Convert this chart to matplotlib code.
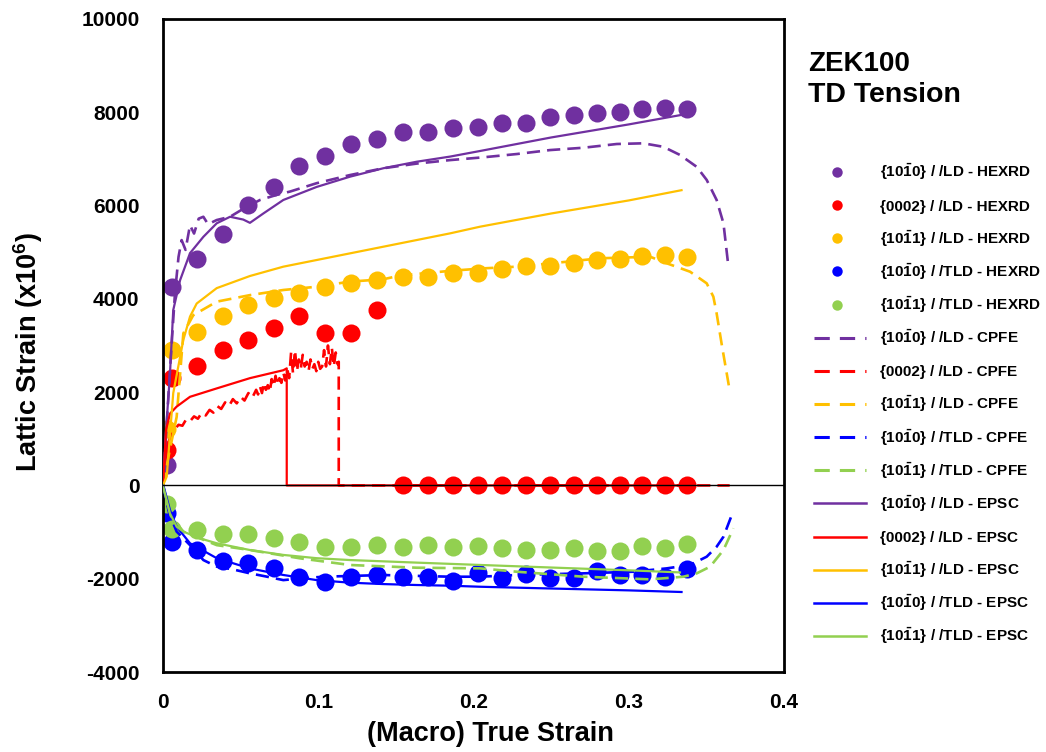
import matplotlib
matplotlib.use("Agg")
import matplotlib.pyplot as plt
from matplotlib.lines import Line2D

plt.rcParams['font.family'] = 'Liberation Sans'
plt.rcParams['font.weight'] = 'bold'
plt.rcParams['mathtext.fontset'] = 'custom'
plt.rcParams['mathtext.rm'] = 'Liberation Sans:bold'
plt.rcParams['mathtext.bf'] = 'Liberation Sans:bold'
plt.rcParams['mathtext.it'] = 'Liberation Sans:bold'

PURPLE = '#7030A0'
RED = '#FF0000'
YELLOW = '#FFC000'
BLUE = '#0000FF'
GREEN = '#92D050'

# ---------------- HEXRD measurements ---------------- #
hex_x = [0.0025, 0.0055, 0.0217, 0.0385, 0.0546, 0.0717, 0.0878, 0.1043, 0.1213, 0.138,
         0.1544, 0.1705, 0.1866, 0.2031, 0.2182, 0.2338, 0.2493, 0.2647, 0.2793, 0.2944,
         0.3087, 0.3233, 0.3373]
hex_prism_ld = [430, 4260, 4850, 5400, 6010, 6400, 6850, 7070, 7330, 7430, 7570, 7580,
                7660, 7690, 7760, 7780, 7900, 7940, 7980, 8010, 8060, 8085, 8060]
hex_basal_ld = [770, 2300, 2560, 2900, 3120, 3370, 3630, 3270, 3270, 3760, 0, 0, 0, 0,
                0, 0, 0, 0, 0, 0, 0, 0, 0]
hex_pyr_ld = [1220, 2900, 3300, 3630, 3870, 4010, 4120, 4250, 4350, 4400, 4475, 4460,
              4550, 4550, 4630, 4700, 4700, 4775, 4830, 4850, 4925, 4940, 4900]
hex_prism_tld = [-600, -1210, -1385, -1615, -1670, -1780, -1960, -2065, -1970, -1920,
                 -1960, -1960, -2040, -1885, -1980, -1905, -1980, -1980, -1830, -1920,
                 -1920, -1970, -1800]
hex_pyr_tld = [-400, -940, -955, -1050, -1040, -1135, -1205, -1315, -1315, -1280, -1315,
               -1280, -1315, -1300, -1350, -1385, -1385, -1350, -1405, -1405, -1300,
               -1350, -1255]

# ---------------- CPFE predictions ---------------- #
cpfe_prism_ld_x = [0, 0.002, 0.0045, 0.0077, 0.010, 0.012, 0.0145, 0.0174, 0.02, 0.023,
                   0.026, 0.029, 0.0346, 0.0432, 0.0539, 0.0625, 0.0733, 0.0818, 0.099,
                   0.1205, 0.1419, 0.1634, 0.1849, 0.2064, 0.2279, 0.2493, 0.2708, 0.2923,
                   0.3094, 0.3223, 0.333, 0.3438, 0.3502, 0.3566, 0.361, 0.3642]
cpfe_prism_ld = [0, 1100, 2470, 4120, 4900, 5260, 5050, 5580, 5400, 5720, 5760, 5600,
                 5690, 5760, 5975, 6120, 6230, 6300, 6480, 6655, 6800, 6900, 6975, 7035,
                 7105, 7190, 7240, 7320, 7335, 7260, 7085, 6830, 6550, 6120, 5620, 4690]

# noisy basal response, then the drop to zero after 0.113
cpfe_basal_ld_x = [0, 0.0025, 0.005, 0.0075, 0.01, 0.0125, 0.015, 0.0175, 0.02, 0.0225,
                   0.025, 0.0275, 0.03, 0.0325, 0.035, 0.0375, 0.04, 0.0425, 0.045,
                   0.0475, 0.05, 0.0525, 0.055, 0.0575, 0.06,
                   0.06125, 0.0625, 0.06375, 0.065, 0.06625, 0.0675, 0.06875, 0.07,
                   0.07125, 0.0725, 0.07375, 0.075, 0.07625, 0.0775, 0.07875, 0.08,
                   0.08125, 0.0825, 0.08375, 0.085, 0.08625, 0.0875, 0.08875, 0.09,
                   0.09125, 0.0925, 0.09375, 0.095, 0.09625, 0.0975, 0.09875, 0.1,
                   0.10125, 0.1025, 0.10375, 0.105, 0.10625, 0.1075, 0.10875, 0.11,
                   0.11125, 0.1125, 0.1132, 0.1132, 0.365]
cpfe_basal_ld = [0, 850, 1050, 1200, 1300, 1280, 1420, 1380, 1480, 1430, 1560, 1500, 1620,
                 1560, 1700, 1640, 1780, 1700, 1850, 1760, 1900, 1820, 1980, 1880, 2050,
                 1950, 2120, 1980, 2200, 2050, 2150, 2000, 2280, 2120, 2350, 2150, 2300,
                 2200, 2420, 2250, 2500, 2300, 2850, 2400, 2900, 2450, 2700, 2500, 2800,
                 2550, 2650, 2450, 2700, 2500, 2600, 2450, 2650, 2500, 2550, 2900, 2550,
                 3000, 2600, 2950, 2550, 2850, 2600, 2650, 0, 0]

cpfe_pyr_ld_x = [0, 0.004, 0.0088, 0.0131, 0.0195, 0.0346, 0.056, 0.0775, 0.099, 0.1205,
                 0.1419, 0.1527, 0.1849, 0.2064, 0.2279, 0.2601, 0.2816, 0.3138, 0.3245,
                 0.3395, 0.3502, 0.3545, 0.3566, 0.360, 0.3652]
cpfe_pyr_ld = [0, 700, 1470, 3260, 3650, 3940, 4080, 4190, 4260, 4370, 4420, 4500, 4600,
               4654, 4690, 4796, 4870, 4903, 4762, 4582, 4333, 4046, 3690, 3000, 2000]

cpfe_prism_tld_x = [0, 0.004, 0.0088, 0.0174, 0.026, 0.0346, 0.045, 0.056, 0.066, 0.0775,
                    0.09, 0.1033, 0.1419, 0.1849, 0.2042, 0.2279, 0.2708, 0.303, 0.3245,
                    0.3395, 0.3502, 0.3566, 0.361, 0.3663]
cpfe_prism_tld = [0, -600, -990, -1280, -1600, -1740, -1800, -1885, -1950, -2030, -1990,
                  -1957, -1921, -1957, -1957, -1921, -1885, -1850, -1778, -1706, -1528,
                  -1314, -1100, -640]

cpfe_pyr_tld_x = [0, 0.005, 0.0131, 0.0346, 0.056, 0.0882, 0.1205, 0.1634, 0.2042, 0.2279,
                  0.2708, 0.3138, 0.3352, 0.3438, 0.3524, 0.361, 0.3674]
cpfe_pyr_tld = [0, -650, -990, -1280, -1385, -1563, -1706, -1764, -1778, -1850, -1957,
                -2014, -1957, -1885, -1742, -1385, -920]

# ---------------- EPSC predictions ---------------- #
epsc_prism_ld_x = [0, 0.002, 0.0045, 0.0066, 0.011, 0.0174, 0.026, 0.0346, 0.0432, 0.0517,
                   0.056, 0.0646, 0.0775, 0.099, 0.1205, 0.1419, 0.1634, 0.1849, 0.2042,
                   0.25, 0.3, 0.335]
epsc_prism_ld = [0, 1200, 2400, 3760, 4400, 4980, 5330, 5620, 5760, 5700, 5630, 5830, 6120,
                 6400, 6620, 6800, 6940, 7050, 7170, 7460, 7740, 7950]

epsc_basal_ld_x = [0, 0.002, 0.0045, 0.0088, 0.0174, 0.0346, 0.056, 0.0775, 0.0797, 0.0797,
                   0.335]
epsc_basal_ld = [0, 1200, 1540, 1690, 1900, 2080, 2300, 2470, 2510, 0, 0]

epsc_pyr_ld_x = [0, 0.0024, 0.0066, 0.0131, 0.0174, 0.0217, 0.0346, 0.056, 0.0775, 0.099,
                 0.1419, 0.1849, 0.2042, 0.25, 0.3, 0.334]
epsc_pyr_ld = [0, 190, 1980, 3120, 3620, 3900, 4230, 4490, 4690, 4833, 5118, 5404, 5547,
               5830, 6110, 6330]

epsc_prism_tld_x = [0, 0.0005, 0.0045, 0.0088, 0.0174, 0.0346, 0.056, 0.0775, 0.099, 0.1205,
                    0.1419, 0.1634, 0.1849, 0.2042, 0.25, 0.3, 0.334]
epsc_prism_tld = [0, -30, -530, -885, -1240, -1560, -1780, -1920, -2030, -2085, -2115,
                  -2135, -2150, -2172, -2210, -2250, -2285]

epsc_pyr_tld_x = [0, 0.0045, 0.0088, 0.0131, 0.0238, 0.0346, 0.056, 0.0775, 0.099, 0.1205,
                  0.1634, 0.2042, 0.25, 0.3, 0.333]
epsc_pyr_tld = [0, -600, -885, -990, -1135, -1240, -1385, -1490, -1560, -1600, -1655,
                -1705, -1760, -1820, -1865]

x_ticks = [0, 0.1, 0.2, 0.3, 0.4]
x_tick_labels = ['0', '0.1', '0.2', '0.3', '0.4']
y_ticks = [-4000, -2000, 0, 2000, 4000, 6000, 8000, 10000]

planes = [r'{10$\bar{1}$0} / /LD', '{0002} / /LD', r'{10$\bar{1}$1} / /LD',
          r'{10$\bar{1}$0} / /TLD', r'{10$\bar{1}$1} / /TLD']
methods = ['HEXRD', 'CPFE', 'EPSC']

colors = [PURPLE, RED, YELLOW, BLUE, GREEN]
hex_sets = [hex_prism_ld, hex_basal_ld, hex_pyr_ld, hex_prism_tld, hex_pyr_tld]
cpfe_sets = [(cpfe_prism_ld_x, cpfe_prism_ld), (cpfe_basal_ld_x, cpfe_basal_ld),
             (cpfe_pyr_ld_x, cpfe_pyr_ld), (cpfe_prism_tld_x, cpfe_prism_tld),
             (cpfe_pyr_tld_x, cpfe_pyr_tld)]
epsc_sets = [(epsc_prism_ld_x, epsc_prism_ld), (epsc_basal_ld_x, epsc_basal_ld),
             (epsc_pyr_ld_x, epsc_pyr_ld), (epsc_prism_tld_x, epsc_prism_tld),
             (epsc_pyr_tld_x, epsc_pyr_tld)]

W, H = 1046, 752
fig = plt.figure(figsize=(W/100, H/100), dpi=100)
ax = fig.add_axes([163/W, 1 - 672/H, (784 - 163)/W, (672 - 19)/H])

for c, ys in zip(colors, hex_sets):
    ax.plot(hex_x, ys, 'o', color=c, markersize=13, markeredgewidth=0, zorder=2)
for c, (xs, ys) in zip(colors, cpfe_sets):
    ax.plot(xs, ys, color=c, lw=1.9, linestyle=(0, (5, 2.7)), zorder=3)
for c, (xs, ys) in zip(colors, epsc_sets):
    ax.plot(xs, ys, color=c, lw=1.6, zorder=3)

ax.axhline(0, color='black', lw=1, zorder=4)

ax.set_xlim(0, 0.4)
ax.set_ylim(-4000, 10000)
ax.set_xticks(x_ticks)
ax.set_xticklabels(x_tick_labels)
ax.set_yticks(y_ticks)
ax.set_yticklabels([str(v) for v in y_ticks])
ax.tick_params(length=0, labelsize=15)
ax.tick_params(axis='y', pad=17)
ax.tick_params(axis='x', pad=15)
for s in ax.spines.values():
    s.set_linewidth(2)

ax.set_xlabel('(Macro) True Strain', fontsize=19.5, fontweight='bold')
ax.xaxis.set_label_coords((490 - 163)/621, (672 - 721)/653)
ax.set_ylabel(r'Lattic Strain (x10$^{6}$)', fontsize=19.5, fontweight='bold')
ax.yaxis.set_label_coords((45 - 163)/621, (672 - 352)/653)

fig.text(808/W, 1 - 71/H, 'ZEK100', fontsize=20, fontweight='bold',
         va='baseline', ha='left')
fig.text(808/W, 1 - 102/H, 'TD Tension', fontsize=20.5, fontweight='bold',
         va='baseline', ha='left')

# legend, one row per series
row = 0
for m in methods:
    for c, p in zip(colors, planes):
        yc = 1 - (172 + row*33.14)/H
        if m == 'HEXRD':
            fig.add_artist(Line2D([837/W], [yc], marker='o', color=c, markersize=7.5,
                                  markeredgewidth=0, transform=fig.transFigure))
        elif m == 'CPFE':
            fig.add_artist(Line2D([814/W, 866/W], [yc, yc], color=c, lw=2.2,
                                  linestyle=(0, (5, 3.3)), transform=fig.transFigure))
        else:
            fig.add_artist(Line2D([814/W, 866/W], [yc, yc], color=c, lw=1.8,
                                  transform=fig.transFigure))
        fig.text(880/W, yc - 5.5/H, p + ' - ' + m, fontsize=11, fontweight='bold',
                 va='baseline', ha='left')
        row += 1

plt.savefig('out.png', dpi=100)
